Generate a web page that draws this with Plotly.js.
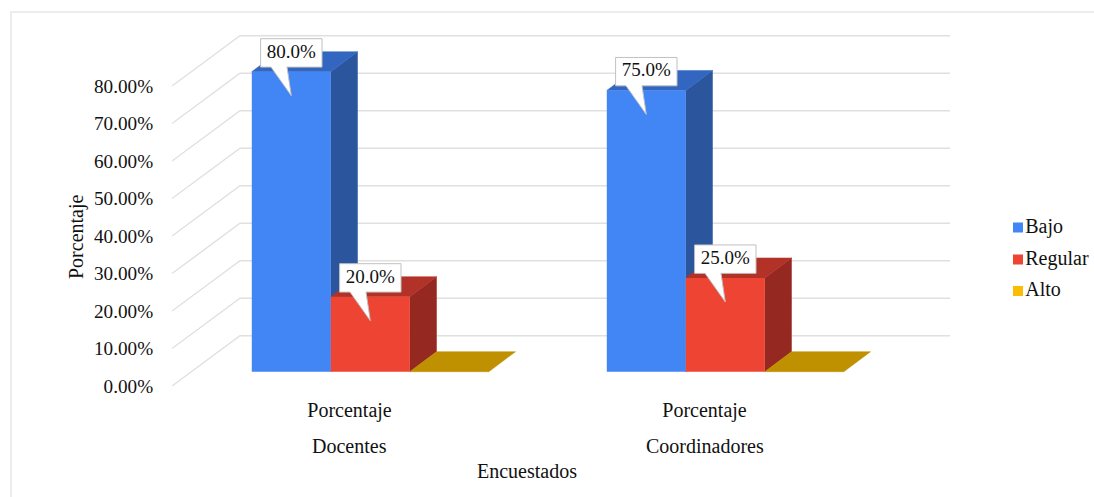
<!DOCTYPE html>
<html><head><meta charset="utf-8">
<script src="https://cdn.plot.ly/plotly-3.0.1.min.js"></script>
<style>html,body{margin:0;padding:0;background:#fff}#frame{position:absolute;left:10px;top:11px;width:1100px;height:500px;border:2px solid #ececec;box-sizing:border-box}#chart{position:absolute;left:0;top:0;width:1094px;height:497px}body{overflow:hidden}</style>
</head><body><div id="frame"></div><div id="chart"></div>
<script>
// ---- data ----
const categories = ['Docentes', 'Coordinadores'];
const measureLabel = 'Porcentaje';
const seriesNames = ['Bajo', 'Regular', 'Alto'];
const bajo = [80, 75];
const regular = [20, 25];
const alto = [0, 0];
const yTicks = [0, 10, 20, 30, 40, 50, 60, 70, 80];
const yTickLabels = ['0.00%', '10.00%', '20.00%', '30.00%', '40.00%', '50.00%', '60.00%', '70.00%', '80.00%'];

// ---- style ----
const frontColors = ['#4285F4', '#EE4433', '#FBBC04'];
const sideColors = ['#2B569E', '#952820', '#BF9000'];
const topColors = ['#3366C0', '#B23227', '#BF9000'];
const FONT = 'Liberation Serif, Times New Roman, serif';
const INK = '#111111', GRID = '#e0e0e0';
const labelFont = {family: FONT, size: 20, color: INK};
const tickFont = {family: FONT, size: 19.2, color: INK};
const calloutFont = {family: FONT, size: 19, color: INK};

// ---- page geometry: one category = 355 px, one percent = 3.75 px ----
const PX = 355, PY = 3.75;
const L = 172, T = 35, B = 386, W = 922;
const wallX = 68 / PX, wallY = 50.2 / PY;      // depth of the whole floor
const planeX = 20.8 / PX, planeY = 14.3 / PY;  // bars sit this far into the floor
const depthX = 26.7 / PX, depthY = 20 / PY;    // depth of one bar
const barW = 79 / PX, bargap = 1 - 3 * barW;
const xRange = [-0.5, -0.5 + W / PX], yRange = [0, (B - T) / PY];
const gridEnd = categories.length - 0.5 + wallX;
const xs = categories.map((_, i) => i);
const values = [bajo, regular, alto];
const traces = [];

// gridlines: two segments on the floor wall plus the back wall
const gx = [], gy = [];
yTicks.forEach(v => {
  gx.push(xRange[0], xRange[0] + wallX, gridEnd, null);
  gy.push(v, v + wallY, v + wallY, null);
});
traces.push({type: 'scatter', mode: 'lines', x: gx, y: gy, hoverinfo: 'skip', showlegend: false,
  line: {color: GRID, width: 1.4}, connectgaps: false});

// depth faces of every bar
function poly(x, y, color) {
  traces.push({type: 'scatter', mode: 'lines', x, y, fill: 'toself', fillcolor: color,
    line: {color: color, width: 0.5}, hoverinfo: 'skip', showlegend: false});
}
values.forEach((vals, s) => {
  vals.forEach((v, i) => {
    const x0 = xs[i] + planeX + (s - 1.5) * barW, x1 = x0 + barW;
    const y0 = planeY, y1 = planeY + v;
    if (v > 0) poly([x1, x1 + depthX, x1 + depthX, x1, x1], [y0, y0 + depthY, y1 + depthY, y1, y0], sideColors[s]);
    poly([x0, x1, x1 + depthX, x0 + depthX, x0], [y1, y1, y1 + depthY, y1 + depthY, y1], topColors[s]);
  });
});

// front faces, on an overlaid subplot so they cover neighbouring sides
seriesNames.forEach((name, s) => {
  traces.push({type: 'bar', name, x: xs.map(x => x + planeX), y: values[s], base: planeY,
    xaxis: 'x2', yaxis: 'y2', marker: {color: frontColors[s], line: {color: frontColors[s], width: 0}},
    showlegend: false, hoverinfo: 'skip'});
});

// callouts
const boxW = 61.4 / PX, boxH = 28.4 / PY;
const boxLift = 33 / PY, tipDrop = 24 / PY;
const neckA = 10.4 / PX, neckB = 26.4 / PX;
const labelX = [], labelY = [], labelT = [];
values.forEach((vals, s) => {
  vals.forEach((v, i) => {
    if (v <= 0) return;
    const c = xs[i] + planeX + (s - 1) * barW, top = planeY + v;
    const l = c - boxW / 2, r = c + boxW / 2, yt = top + boxLift, yb = yt - boxH;
    traces.push({type: 'scatter', mode: 'lines', xaxis: 'x2', yaxis: 'y2',
      x: [l, r, r, l + neckB, c, l + neckA, l, l],
      y: [yt, yt, yb, yb, top - tipDrop, yb, yb, yt],
      fill: 'toself', fillcolor: '#ffffff', line: {color: '#c0c0c0', width: 1},
      hoverinfo: 'skip', showlegend: false});
    labelX.push(c); labelY.push(yt - boxH / 2); labelT.push(v.toFixed(1) + '%');
  });
});
traces.push({type: 'scatter', mode: 'text', xaxis: 'x2', yaxis: 'y2', x: labelX, y: labelY, text: labelT,
  textposition: 'middle center', textfont: calloutFont, hoverinfo: 'skip', showlegend: false});

// legend key column
const keyX = (1018 - L) / PX + xRange[0];
const keyPx = [227.5, 259.5, 291];
seriesNames.forEach((name, s) => {
  traces.push({type: 'scatter', mode: 'markers+text', xaxis: 'x2', yaxis: 'y2', x: [keyX], y: [(B - keyPx[s]) / PY],
    text: [name], textposition: 'middle right',
    marker: {symbol: 'square', size: 10, color: frontColors[s]},
    textfont: labelFont, hoverinfo: 'skip', showlegend: false});
});

const annotations = categories.map((c, i) => ({
  xref: 'x', yref: 'paper', x: xs[i], xanchor: 'center', y: 0, yanchor: 'middle', yshift: -60, text: c, showarrow: false, font: labelFont
}));
annotations.push({xref: 'paper', yref: 'paper', x: (527 - L) / W, xanchor: 'center', y: 0, yanchor: 'middle', yshift: -85,
  text: 'Encuestados', showarrow: false, font: labelFont});
annotations.push({xref: 'paper', yref: 'paper', x: 0, xanchor: 'center', xshift: -96, y: (B - 237) / (B - T), yanchor: 'middle',
  text: 'Porcentaje', textangle: -90, showarrow: false, font: labelFont});

const layout = {
  width: 1094, height: 497, showlegend: false,
  margin: {l: L, r: 1094 - L - W, t: T, b: 497 - B, pad: 0},
  paper_bgcolor: 'rgba(0,0,0,0)', plot_bgcolor: 'rgba(0,0,0,0)',
  barmode: 'group', bargap: bargap, bargroupgap: 0,
  font: labelFont,
  xaxis: {range: xRange, tickmode: 'array', tickvals: xs, ticktext: categories.map(() => measureLabel),
    showgrid: false, zeroline: false, showline: false, ticks: 'outside', ticklen: 6, tickcolor: 'rgba(0,0,0,0)',
    tickfont: labelFont, fixedrange: true},
  yaxis: {range: yRange, tickmode: 'array', tickvals: yTicks, ticktext: yTickLabels,
    showgrid: false, zeroline: false, showline: false, ticks: 'outside', ticklen: 14, tickcolor: 'rgba(0,0,0,0)',
    tickfont: tickFont, fixedrange: true},
  xaxis2: {range: xRange, overlaying: 'x', anchor: 'y2', visible: false, fixedrange: true},
  yaxis2: {range: yRange, overlaying: 'y', anchor: 'x2', visible: false, fixedrange: true},
  annotations
};
Plotly.newPlot('chart', traces, layout, {displayModeBar: false, staticPlot: true});
</script></body></html>
